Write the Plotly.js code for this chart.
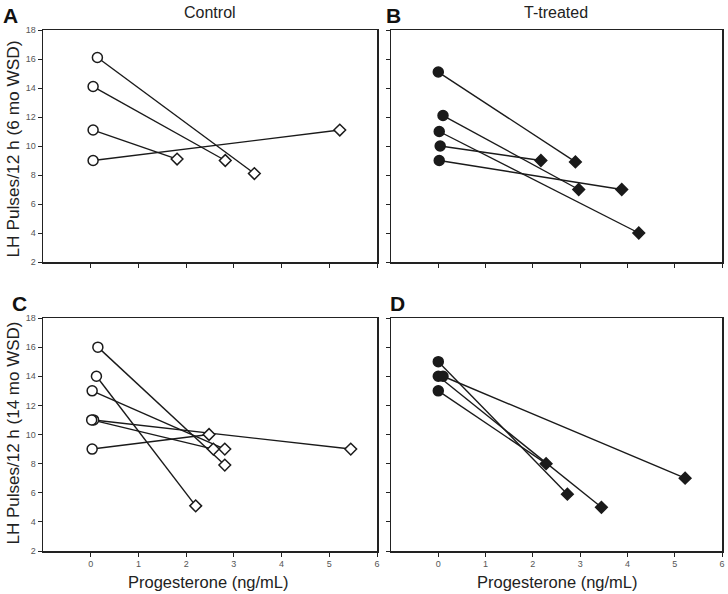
<!DOCTYPE html>
<html>
<head>
<meta charset="utf-8">
<script src="https://cdn.plot.ly/plotly-3.0.1.min.js"></script>
<style>
html,body{margin:0;padding:0;background:#fff;}
#chart{width:728px;height:594px;}
</style>
</head>
<body>
<div id="chart"></div>
<script>
// ---- Data (progesterone ng/mL, LH pulses/12 h) ----
// Panel A: Control, 6 mo WSD  (base = open circle, treat = open diamond)
const ctrl6_P_base   = [0.14, 0.05, 0.05, 0.05];
const ctrl6_LH_base  = [16.1, 14.1, 11.1, 9.0];
const ctrl6_P_treat  = [3.43, 2.82, 1.81, 5.22];
const ctrl6_LH_treat = [8.1, 9.0, 9.1, 11.1];

// Panel B: T-treated, 6 mo WSD (filled circle / filled diamond)
const tt6_P_base   = [0.0, 0.10, 0.02, 0.04, 0.02];
const tt6_LH_base  = [15.1, 12.1, 11.0, 10.0, 9.0];
const tt6_P_treat  = [2.90, 2.97, 4.24, 2.17, 3.88];
const tt6_LH_treat = [8.9, 7.0, 4.0, 9.0, 7.0];

// Panel C: Control, 14 mo WSD
const ctrl14_P_base   = [0.15, 0.12, 0.03, 0.06, 0.02, 0.03];
const ctrl14_LH_base  = [16.0, 14.0, 13.0, 11.0, 11.0, 9.0];
const ctrl14_P_treat  = [2.81, 2.20, 2.81, 5.45, 2.57, 2.48];
const ctrl14_LH_treat = [7.9, 5.1, 9.0, 9.0, 9.0, 10.0];

// Panel D: T-treated, 14 mo WSD
const tt14_P_base   = [0.0, 0.0, 0.10, 0.0];
const tt14_LH_base  = [15.0, 14.0, 14.0, 13.0];
const tt14_P_treat  = [2.73, 3.45, 5.22, 2.28];
const tt14_LH_treat = [5.9, 5.0, 7.0, 8.0];

const xTicks = [0, 1, 2, 3, 4, 5, 6];
const yTicks = [2, 4, 6, 8, 10, 12, 14, 16, 18];

const colTitles = ["Control", "T-treated"];
const panelLetters = ["A", "B", "C", "D"];
const yTitles = ["LH Pulses/12 h (6 mo WSD)", "LH Pulses/12 h (14 mo WSD)"];
const xTitle = "Progesterone (ng/mL)";

// ---- Build traces ----
const FONT = "Liberation Sans, Arial, Helvetica, sans-serif";
const traces = [];
function addPanel(px0, py0, px1, py1, xa, ya, filled) {
  for (let i = 0; i < px0.length; i++) {
    traces.push({
      type: "scatter", mode: "lines", x: [px0[i], px1[i]], y: [py0[i], py1[i]],
      xaxis: xa, yaxis: ya, showlegend: false, hoverinfo: "skip",
      line: {color: "#1a1a1a", width: 1.4}
    });
  }
  traces.push({
    type: "scatter", mode: "markers", x: px0, y: py0, xaxis: xa, yaxis: ya, showlegend: false,
    marker: {symbol: "circle", size: 10, color: filled ? "#1a1a1a" : "#ffffff",
             line: {color: "#1a1a1a", width: 1.5}}
  });
  traces.push({
    type: "scatter", mode: "markers", x: px1, y: py1, xaxis: xa, yaxis: ya, showlegend: false,
    marker: {symbol: "diamond", size: 9, color: filled ? "#1a1a1a" : "#ffffff",
             line: {color: "#1a1a1a", width: 1.5}}
  });
}
addPanel(ctrl6_P_base, ctrl6_LH_base, ctrl6_P_treat, ctrl6_LH_treat, "x", "y", false);
addPanel(tt6_P_base, tt6_LH_base, tt6_P_treat, tt6_LH_treat, "x2", "y2", true);
addPanel(ctrl14_P_base, ctrl14_LH_base, ctrl14_P_treat, ctrl14_LH_treat, "x3", "y3", false);
addPanel(tt14_P_base, tt14_LH_base, tt14_P_treat, tt14_LH_treat, "x4", "y4", true);

// ---- Layout ----
const W = 728, H = 594;
const fx = v => v / W, fy = v => 1 - v / H;

function xAxis(dom, anchor, labels) {
  return {domain: dom, anchor: anchor, range: [-1, 6], tickvals: xTicks,
    ticks: "outside", ticklen: 4, tickwidth: 1, tickcolor: "#222",
    showline: true, mirror: true, linecolor: "#222", linewidth: 1.5,
    showgrid: false, zeroline: false, showticklabels: labels,
    tickfont: {family: FONT, size: 9, color: "#555"}, fixedrange: true};
}
function yAxis(dom, anchor, labels) {
  return {domain: dom, anchor: anchor, range: [2, 18], tickvals: yTicks,
    ticks: "outside", ticklen: 4, tickwidth: 1, tickcolor: "#222",
    showline: true, mirror: true, linecolor: "#222", linewidth: 1.5,
    showgrid: false, zeroline: false, showticklabels: labels,
    tickfont: {family: FONT, size: 9, color: "#555"}, fixedrange: true};
}

const leftDom = [fx(43), fx(377)], rightDom = [fx(391), fx(722)];
const topDom = [fy(262), fy(30)], botDom = [fy(551), fy(318)];

const ann = [];
ann.push({text: colTitles[0], x: fx(210), y: fy(12.5), xref: "paper", yref: "paper", showarrow: false,
  xanchor: "center", yanchor: "middle", font: {family: FONT, size: 16, color: "#222"}});
ann.push({text: colTitles[1], x: fx(556), y: fy(12.5), xref: "paper", yref: "paper", showarrow: false,
  xanchor: "center", yanchor: "middle", font: {family: FONT, size: 16, color: "#222"}});
const letterPos = [[10, 15], [393, 15], [19, 303], [398, 303]];
panelLetters.forEach((t, i) => ann.push({text: "<b>" + t + "</b>", x: fx(letterPos[i][0]), y: fy(letterPos[i][1]),
  xref: "paper", yref: "paper", showarrow: false, xanchor: "center", yanchor: "middle",
  font: {family: FONT, size: 21, color: "#111"}}));
ann.push({text: yTitles[0], x: fx(12.5), y: fy(149), xref: "paper", yref: "paper", showarrow: false,
  textangle: -90, xanchor: "center", yanchor: "middle", font: {family: FONT, size: 17.3, color: "#222"}});
ann.push({text: yTitles[1], x: fx(12.5), y: fy(433), xref: "paper", yref: "paper", showarrow: false,
  textangle: -90, xanchor: "center", yanchor: "middle", font: {family: FONT, size: 17, color: "#222"}});
ann.push({text: xTitle, x: fx(208), y: fy(582), xref: "paper", yref: "paper", showarrow: false,
  xanchor: "center", yanchor: "middle", font: {family: FONT, size: 16.5, color: "#222"}});
ann.push({text: xTitle, x: fx(557), y: fy(582), xref: "paper", yref: "paper", showarrow: false,
  xanchor: "center", yanchor: "middle", font: {family: FONT, size: 16.5, color: "#222"}});

const layout = {
  width: W, height: H, margin: {l: 0, r: 0, t: 0, b: 0},
  paper_bgcolor: "#fff", plot_bgcolor: "#fff", showlegend: false,
  font: {family: FONT},
  xaxis: xAxis(leftDom, "y", false), yaxis: yAxis(topDom, "x", true),
  xaxis2: xAxis(rightDom, "y2", false), yaxis2: yAxis(topDom, "x2", false),
  xaxis3: xAxis(leftDom, "y3", true), yaxis3: yAxis(botDom, "x3", true),
  xaxis4: xAxis(rightDom, "y4", true), yaxis4: yAxis(botDom, "x4", false),
  annotations: ann
};

Plotly.newPlot("chart", traces, layout, {displayModeBar: false, staticPlot: true});
</script>
</body>
</html>
